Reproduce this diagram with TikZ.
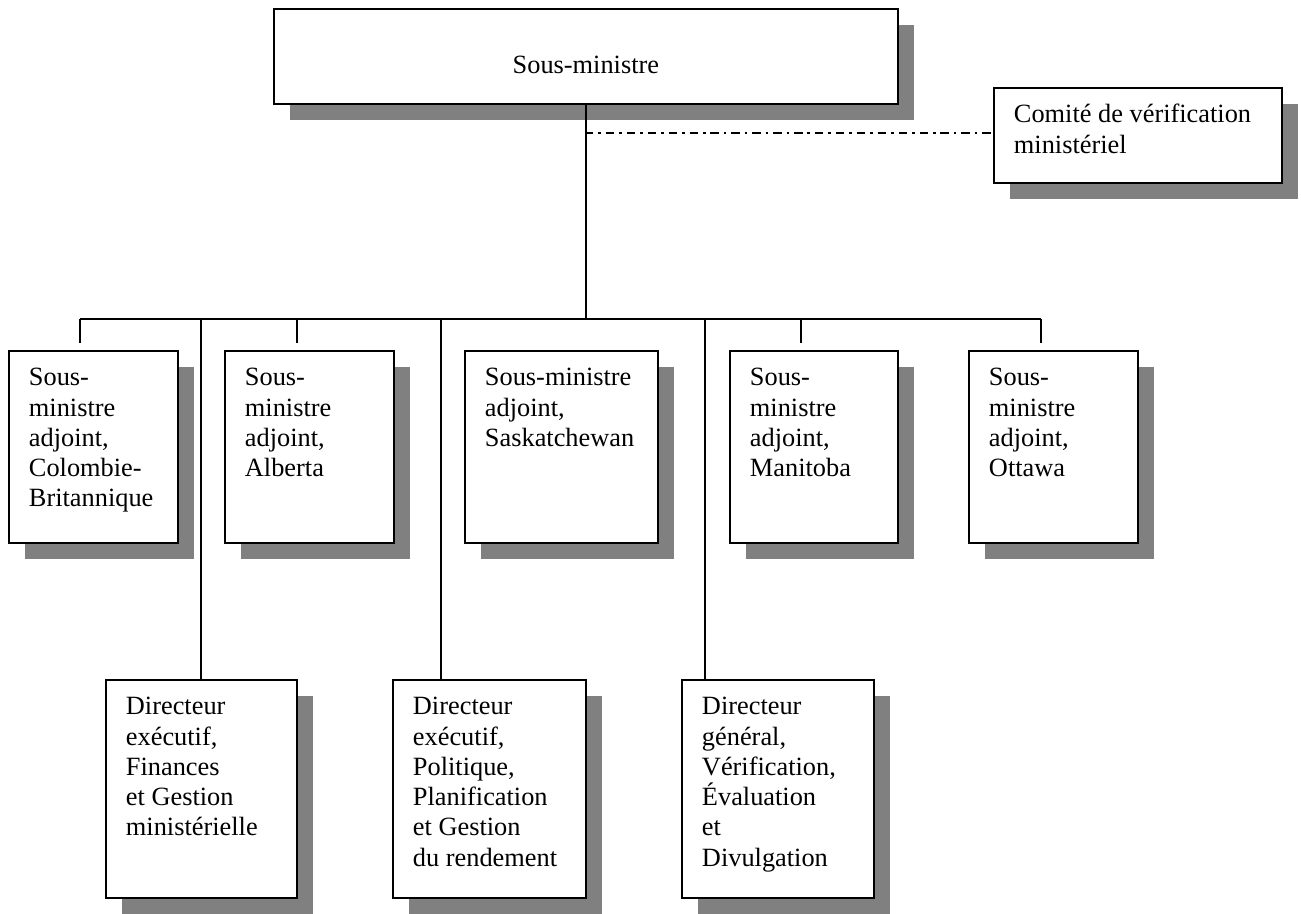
\documentclass[tikz,border=0pt]{standalone}
\usepackage{fontspec}
\setmainfont{Liberation Serif}
\usepackage{tikz}
\usetikzlibrary{shadows}
\newcommand{\boxtxt}[3]{\parbox[c][#2][t]{#1}{\raggedright\rule{0pt}{0.7cm}#3}}

\begin{document}
\begin{tikzpicture}[x=0.02cm,y=-0.02cm,
  orgbox/.style={draw,line width=1.1pt,fill=white,inner xsep=0.4cm,inner ysep=0pt,anchor=north west,
    drop shadow={shadow xshift=0.32cm,shadow yshift=-0.32cm,fill=black!50,opacity=1}},
  conn/.style={line width=0.9pt},
  font=\fontsize{15pt}{17.2pt}\selectfont]
  \useasboundingbox (0,0) rectangle (1301,913);
  \node[orgbox,inner xsep=0pt] (sm) at (273,8) {\parbox[c][1.9cm][t]{12.48cm}{\centering\rule{0pt}{1.3cm}Sous-ministre}};
  \node[orgbox] (cv) at (993,87) {\boxtxt{4.96cm}{1.9cm}{Comité de vérification\\ministériel}};
  \node[orgbox] (cb) at (8,350) {\boxtxt{2.58cm}{3.84cm}{Sous-\\ministre\\adjoint,\\Colombie-\\Britannique}};
  \node[orgbox] (ab) at (224,350) {\boxtxt{2.58cm}{3.84cm}{Sous-\\ministre\\adjoint,\\Alberta}};
  \node[orgbox] (sk) at (464,350) {\boxtxt{3.06cm}{3.84cm}{Sous-ministre\\adjoint,\\Saskatchewan}};
  \node[orgbox] (mb) at (729,350) {\boxtxt{2.56cm}{3.84cm}{Sous-\\ministre\\adjoint,\\Manitoba}};
  \node[orgbox] (ot) at (968,350) {\boxtxt{2.58cm}{3.84cm}{Sous-\\ministre\\adjoint,\\Ottawa}};
  \node[orgbox] (fg) at (105,679) {\boxtxt{3.02cm}{4.36cm}{Directeur\\exécutif,\\Finances\\et Gestion\\ministérielle}};
  \node[orgbox] (pp) at (392,679) {\boxtxt{3.06cm}{4.36cm}{Directeur\\exécutif,\\Politique,\\Planification\\et Gestion\\du rendement}};
  \node[orgbox] (ve) at (681,679) {\boxtxt{3.04cm}{4.36cm}{Directeur\\général,\\Vérification,\\Évaluation\\et\\Divulgation}};
  \coordinate (t) at (585,133);
  \coordinate (k1) at (80,319); \coordinate (k2) at (297,319);
  \coordinate (k4) at (801,319); \coordinate (k5) at (1041,319);
  \coordinate (d1) at (201,319); \coordinate (d2) at (441,319); \coordinate (d3) at (705,319);
  \draw[conn] (sm.south) -- (sm.south |- k1);
  \draw[conn,line width=1pt,dash pattern=on 4.8pt off 2.8pt on 1.5pt off 2.8pt] (t) -- (t -| cv.west);
  \draw[conn] (k1) -- (k5);
  \foreach \k/\b in {k1/cb,k2/ab,k4/mb,k5/ot}
    \draw[conn,shorten >=0.14cm] (\k) -- (\k |- \b.north);
  \foreach \k/\b in {d1/fg,d2/pp,d3/ve}
    \draw[conn] (\k) -- (\k |- \b.north);
\end{tikzpicture}
\end{document}
